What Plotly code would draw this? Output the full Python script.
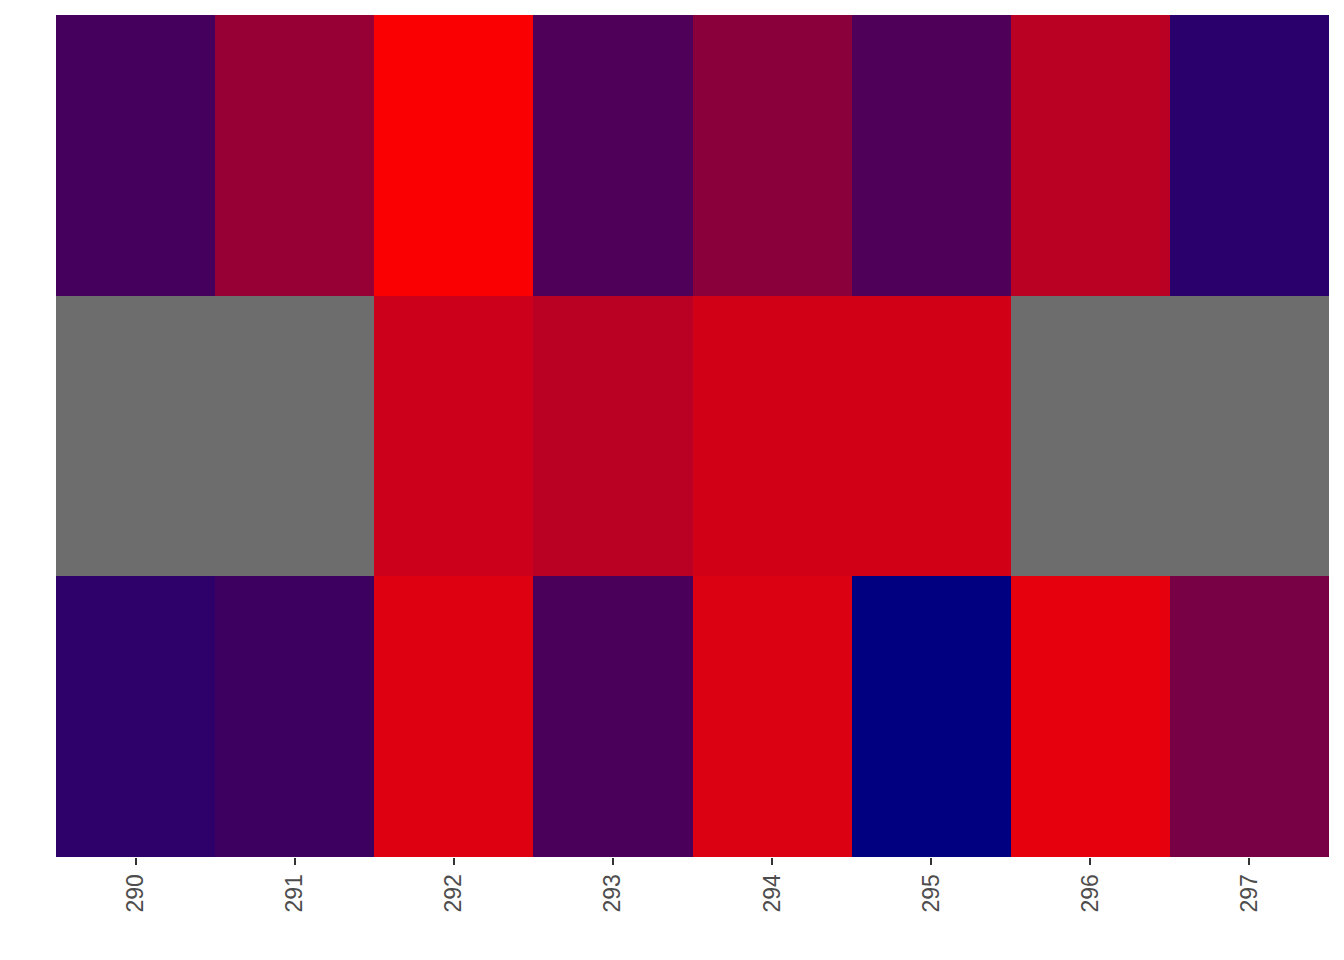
import plotly.graph_objects as go
import numpy as np

columns = ["290", "291", "292", "293", "294", "295", "296", "297"]
rows = ["A", "B", "C"]  # bottom to top
row_bottom = [0.18, 0.24, 0.87, 0.29, 0.86, 0.00, 0.90, 0.47]
row_middle = [None, None, 0.80, 0.73, 0.82, 0.82, None, None]
row_top = [0.27, 0.59, 0.98, 0.31, 0.54, 0.31, 0.73, 0.16]

z = [row_bottom, row_middle, row_top]
z = [[np.nan if v is None else v for v in r] for r in z]

fig = go.Figure(go.Heatmap(
    z=z, x=columns, y=rows,
    colorscale=[[0, "#000080"], [1, "#FF0000"]],
    zmin=0, zmax=1, showscale=False, xgap=0, ygap=0,
))
fig.update_layout(
    width=1328, height=944,
    margin=dict(l=48, r=7, t=7, b=95),
    plot_bgcolor="#6d6d6d", paper_bgcolor="white",
    font=dict(family="Liberation Sans, Arial", size=23, color="#4d4d4d"),
)
fig.update_xaxes(type="category", tickangle=-90, ticks="outside", ticklen=7,
                 tickcolor="#333333", tickwidth=1.5, showgrid=False, zeroline=False,
                 tickfont=dict(size=23, color="#4d4d4d"))
fig.update_yaxes(type="category", showticklabels=False, showgrid=False, zeroline=False)
fig.write_html("out.html")
